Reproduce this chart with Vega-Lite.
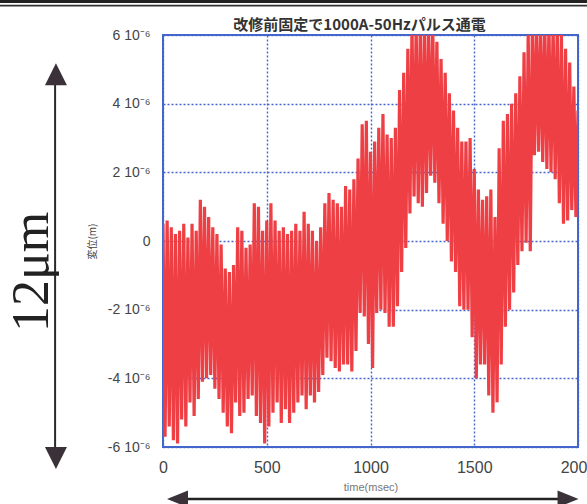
{
  "$schema": "https://vega.github.io/schema/vega-lite/v6.json",
  "width": 415,
  "height": 412,
  "autosize": {"type": "none"},
  "padding": {"left": 163, "top": 35, "right": 9, "bottom": 57},
  "background": "white",
  "title": {"text": "改修前固定で1000A-50Hzパルス通電", "font": "Noto Sans CJK JP", "fontSize": 15, "fontWeight": "bold", "color": "#333", "offset": 3, "dx": -11, "dy": 36},
  "config": {"view": {"stroke": "#4466cc", "strokeWidth": 2}},
  "datasets": {
    "signal": [
      {"t":0,"d":0.5e-6},{"t":10,"d":-5.7e-6},{"t":20,"d":0.6e-6},{"t":30,"d":-5.4e-6},{"t":40,"d":0.4e-6},{"t":50,"d":-5.8e-6},{"t":60,"d":0.2e-6},{"t":70,"d":-5.9e-6},{"t":80,"d":0.3e-6},{"t":90,"d":-5.2e-6},
      {"t":100,"d":0.5e-6},{"t":110,"d":-5.4e-6},{"t":120,"d":0.1e-6},{"t":130,"d":-4.7e-6},{"t":140,"d":0.5e-6},{"t":150,"d":-5.1e-6},{"t":160,"d":0.3e-6},{"t":170,"d":-4.6e-6},{"t":180,"d":1.2e-6},{"t":190,"d":-4.1e-6},
      {"t":200,"d":1.0e-6},{"t":210,"d":-4.0e-6},{"t":220,"d":0.7e-6},{"t":230,"d":-3.9e-6},{"t":240,"d":0.4e-6},{"t":250,"d":-4.3e-6},{"t":260,"d":0.2e-6},{"t":270,"d":-4.6e-6},{"t":280,"d":-0.1e-6},{"t":290,"d":-5.0e-6},
      {"t":300,"d":-0.8e-6},{"t":310,"d":-5.4e-6},{"t":320,"d":-0.9e-6},{"t":330,"d":-5.6e-6},{"t":340,"d":-0.7e-6},{"t":350,"d":-4.7e-6},{"t":360,"d":0.4e-6},{"t":370,"d":-5.1e-6},{"t":380,"d":0.3e-6},{"t":390,"d":-5.0e-6},
      {"t":400,"d":-0.2e-6},{"t":410,"d":-4.6e-6},{"t":420,"d":-0.1e-6},{"t":430,"d":-4.5e-6},{"t":440,"d":1.1e-6},{"t":450,"d":-5.1e-6},{"t":460,"d":1.0e-6},{"t":470,"d":-5.3e-6},{"t":480,"d":0.3e-6},{"t":490,"d":-5.9e-6},
      {"t":500,"d":0.6e-6},{"t":510,"d":-5.4e-6},{"t":520,"d":1.1e-6},{"t":530,"d":-5.0e-6},{"t":540,"d":0.6e-6},{"t":550,"d":-4.7e-6},{"t":560,"d":0.3e-6},{"t":570,"d":-5.3e-6},{"t":580,"d":0.4e-6},{"t":590,"d":-4.9e-6},
      {"t":600,"d":0.2e-6},{"t":610,"d":-5.3e-6},{"t":620,"d":0.3e-6},{"t":630,"d":-5.0e-6},{"t":640,"d":0.5e-6},{"t":650,"d":-4.7e-6},{"t":660,"d":0.3e-6},{"t":670,"d":-4.5e-6},{"t":680,"d":0.85e-6},{"t":690,"d":-4.9e-6},
      {"t":700,"d":0.5e-6},{"t":710,"d":-4.5e-6},{"t":720,"d":0.3e-6},{"t":730,"d":-4.7e-6},{"t":740,"d":0},{"t":750,"d":-4.4e-6},{"t":760,"d":0.4e-6},{"t":770,"d":-3.9e-6},{"t":780,"d":1.1e-6},{"t":790,"d":-3.4e-6},
      {"t":800,"d":1.4e-6},{"t":810,"d":-3.5e-6},{"t":820,"d":1.2e-6},{"t":830,"d":-3.7e-6},{"t":840,"d":1.1e-6},{"t":850,"d":-3.8e-6},{"t":860,"d":1.0e-6},{"t":870,"d":-3.6e-6},{"t":880,"d":1.6e-6},{"t":890,"d":-3.6e-6},
      {"t":900,"d":1.5e-6},{"t":910,"d":-3.8e-6},{"t":920,"d":1.8e-6},{"t":930,"d":-3.2e-6},{"t":940,"d":2.4e-6},{"t":950,"d":-2.1e-6},{"t":960,"d":3.4e-6},{"t":970,"d":-2.2e-6},{"t":980,"d":3.5e-6},{"t":990,"d":-3.0e-6},
      {"t":1000,"d":2.6e-6},{"t":1010,"d":-3.7e-6},{"t":1020,"d":2.9e-6},{"t":1030,"d":-2.1e-6},{"t":1040,"d":3.3e-6},{"t":1050,"d":-2.0e-6},{"t":1060,"d":3.7e-6},{"t":1070,"d":-2.1e-6},{"t":1080,"d":3.1e-6},{"t":1090,"d":-2.5e-6},
      {"t":1100,"d":3.0e-6},{"t":1110,"d":-2.5e-6},{"t":1120,"d":3.3e-6},{"t":1130,"d":-1.9e-6},{"t":1140,"d":4.4e-6},{"t":1150,"d":-0.9e-6},{"t":1160,"d":4.9e-6},{"t":1170,"d":-0.2e-6},{"t":1180,"d":5.6e-6},{"t":1190,"d":0.8e-6},
      {"t":1200,"d":6.3e-6},{"t":1210,"d":1.3e-6},{"t":1220,"d":6.3e-6},{"t":1230,"d":1.1e-6},{"t":1240,"d":6.3e-6},{"t":1250,"d":1.0e-6},{"t":1260,"d":6.3e-6},{"t":1270,"d":1.4e-6},{"t":1280,"d":6.3e-6},{"t":1290,"d":1.9e-6},
      {"t":1300,"d":6.3e-6},{"t":1310,"d":1.7e-6},{"t":1320,"d":5.8e-6},{"t":1330,"d":1.1e-6},{"t":1340,"d":5.3e-6},{"t":1350,"d":0.5e-6},{"t":1360,"d":4.9e-6},{"t":1370,"d":0},{"t":1380,"d":4.3e-6},{"t":1390,"d":-0.6e-6},
      {"t":1400,"d":3.8e-6},{"t":1410,"d":-0.9e-6},{"t":1420,"d":3.3e-6},{"t":1430,"d":-1.9e-6},{"t":1440,"d":2.9e-6},{"t":1450,"d":-2.0e-6},{"t":1460,"d":2.9e-6},{"t":1470,"d":-2.0e-6},{"t":1480,"d":3.0e-6},{"t":1490,"d":-2.8e-6},
      {"t":1500,"d":2.1e-6},{"t":1510,"d":-4.0e-6},{"t":1520,"d":1.5e-6},{"t":1530,"d":-3.6e-6},{"t":1540,"d":1.2e-6},{"t":1550,"d":-3.6e-6},{"t":1560,"d":1.3e-6},{"t":1570,"d":-4.5e-6},{"t":1580,"d":1.5e-6},{"t":1590,"d":-5.0e-6},
      {"t":1600,"d":0.7e-6},{"t":1610,"d":-4.7e-6},{"t":1620,"d":2.7e-6},{"t":1630,"d":-3.6e-6},{"t":1640,"d":3.5e-6},{"t":1650,"d":-2.5e-6},{"t":1660,"d":3.7e-6},{"t":1670,"d":-2.0e-6},{"t":1680,"d":4.0e-6},{"t":1690,"d":-1.5e-6},
      {"t":1700,"d":4.3e-6},{"t":1710,"d":-0.7e-6},{"t":1720,"d":4.8e-6},{"t":1730,"d":-0.3e-6},{"t":1740,"d":5.5e-6},{"t":1750,"d":-0.05e-6},{"t":1760,"d":6.1e-6},{"t":1770,"d":-0.3e-6},{"t":1780,"d":6.3e-6},{"t":1790,"d":2.5e-6},
      {"t":1800,"d":6.3e-6},{"t":1810,"d":2.6e-6},{"t":1820,"d":6.3e-6},{"t":1830,"d":2.3e-6},{"t":1840,"d":6.3e-6},{"t":1850,"d":2.1e-6},{"t":1860,"d":6.3e-6},{"t":1870,"d":2.0e-6},{"t":1880,"d":6.3e-6},{"t":1890,"d":1.8e-6},
      {"t":1900,"d":6.3e-6},{"t":1910,"d":1.1e-6},{"t":1920,"d":6.0e-6},{"t":1930,"d":0.5e-6},{"t":1940,"d":5.6e-6},{"t":1950,"d":0.6e-6},{"t":1960,"d":5.2e-6},{"t":1970,"d":0.9e-6},{"t":1980,"d":4.5e-6},{"t":1990,"d":0.7e-6},
      {"t":2000,"d":3.8e-6}
    ]
  },
  "layer": [
    {
      "data": {"name": "signal"},
      "mark": {"type": "line", "color": "#ee3f45", "strokeWidth": 3.2, "clip": true},
      "encoding": {
        "x": {"field": "t", "type": "quantitative", "scale": {"domain": [0, 2000], "nice": false},
          "axis": {"values": [0, 500, 1000, 1500, 2000], "format": "d", "title": "time(msec)", "grid": true, "gridColor": "#4466cc", "gridDash": [2, 2], "gridWidth": 1.4, "ticks": false, "domain": false,
            "labelFont": "Liberation Sans Narrow, Liberation Sans", "labelFontSize": 16, "labelColor": "#444", "labelPadding": 12, "labelFlush": false, "labelOverlap": false,
            "titleFont": "Liberation Sans", "titleFontSize": 11, "titleFontWeight": "normal", "titleColor": "#777", "titlePadding": 6}},
        "y": {"field": "d", "type": "quantitative", "scale": {"domain": [-6e-6, 6e-6], "nice": false, "zero": false},
          "axis": {"values": [-6e-6, -4e-6, -2e-6, 0, 2e-6, 4e-6, 6e-6], "title": "変位(m)", "grid": true, "gridColor": "#4466cc", "gridDash": [2, 2], "gridWidth": 1.4, "ticks": false, "domain": false,
            "labelExpr": "datum.value == 0 ? '0' : round(datum.value * 1e6) + ' 10⁻⁶'",
            "labelFont": "Liberation Sans Narrow, Liberation Sans", "labelFontSize": 14, "labelColor": "#444", "labelPadding": 13, "labelOverlap": false,
            "titleFont": "Noto Sans CJK JP", "titleFontSize": 10, "titleFontWeight": "normal", "titleColor": "#444", "titlePadding": 10}}
      }
    },
    {
      "data": {"values": [{}]},
      "mark": {"type": "rule", "color": "#222", "strokeWidth": 3},
      "encoding": {"x": {"datum": -786, "type": "quantitative", "scale": {"domain": [0, 2000], "nice": false}}, "x2": {"datum": 2044}, "y": {"datum": 6.976e-6, "type": "quantitative", "scale": {"domain": [-6e-6, 6e-6], "nice": false, "zero": false}}}
    },
    {
      "data": {"values": [{}]},
      "mark": {"type": "rule", "color": "#333", "strokeWidth": 1.8},
      "encoding": {"x": {"datum": -786, "type": "quantitative", "scale": {"domain": [0, 2000], "nice": false}}, "x2": {"datum": 2044}, "y": {"datum": 6.854e-6, "type": "quantitative", "scale": {"domain": [-6e-6, 6e-6], "nice": false, "zero": false}}}
    },
    {
      "data": {"values": [{}]},
      "mark": {"type": "rule", "color": "#2a2a2a", "strokeWidth": 2},
      "encoding": {"x": {"datum": -520, "type": "quantitative", "scale": {"domain": [0, 2000], "nice": false}}, "y": {"datum": 4.6e-6, "type": "quantitative", "scale": {"domain": [-6e-6, 6e-6], "nice": false, "zero": false}}, "y2": {"datum": -6.05e-6}}
    },
    {
      "data": {"values": [{}]},
      "mark": {"type": "point", "shape": "M0,-1L1,1L-1,1Z", "filled": true, "size": 484, "color": "#3a3238", "opacity": 1},
      "encoding": {"x": {"datum": -516, "type": "quantitative", "scale": {"domain": [0, 2000], "nice": false}}, "y": {"datum": 4.86e-6, "type": "quantitative", "scale": {"domain": [-6e-6, 6e-6], "nice": false, "zero": false}}}
    },
    {
      "data": {"values": [{}]},
      "mark": {"type": "point", "shape": "M-1,-1L1,-1L0,1Z", "filled": true, "size": 484, "color": "#3a3238", "opacity": 1},
      "encoding": {"x": {"datum": -516, "type": "quantitative", "scale": {"domain": [0, 2000], "nice": false}}, "y": {"datum": -6.32e-6, "type": "quantitative", "scale": {"domain": [-6e-6, 6e-6], "nice": false, "zero": false}}}
    },
    {
      "data": {"values": [{}]},
      "mark": {"type": "rule", "color": "#222", "strokeWidth": 2.5},
      "encoding": {"x": {"datum": 120, "type": "quantitative", "scale": {"domain": [0, 2000], "nice": false}}, "x2": {"datum": 1904}, "y": {"datum": -7.515e-6, "type": "quantitative", "scale": {"domain": [-6e-6, 6e-6], "nice": false, "zero": false}}}
    },
    {
      "data": {"values": [{}]},
      "mark": {"type": "point", "shape": "M-1,0L1,-0.8L1,0.8Z", "filled": true, "size": 441, "color": "#3a3238", "opacity": 1},
      "encoding": {"x": {"datum": 70, "type": "quantitative", "scale": {"domain": [0, 2000], "nice": false}}, "y": {"datum": -7.515e-6, "type": "quantitative", "scale": {"domain": [-6e-6, 6e-6], "nice": false, "zero": false}}}
    },
    {
      "data": {"values": [{}]},
      "mark": {"type": "point", "shape": "M1,0L-1,-0.8L-1,0.8Z", "filled": true, "size": 441, "color": "#3a3238", "opacity": 1},
      "encoding": {"x": {"datum": 1952, "type": "quantitative", "scale": {"domain": [0, 2000], "nice": false}}, "y": {"datum": -7.515e-6, "type": "quantitative", "scale": {"domain": [-6e-6, 6e-6], "nice": false, "zero": false}}}
    },
    {
      "data": {"values": [{}]},
      "mark": {"type": "text", "text": "12μm", "font": "Liberation Serif", "fontSize": 52, "angle": 270, "align": "center", "baseline": "middle", "color": "#222"},
      "encoding": {"x": {"datum": -631, "type": "quantitative", "scale": {"domain": [0, 2000], "nice": false}}, "y": {"datum": -0.9e-6, "type": "quantitative", "scale": {"domain": [-6e-6, 6e-6], "nice": false, "zero": false}}}
    }
  ]
}
